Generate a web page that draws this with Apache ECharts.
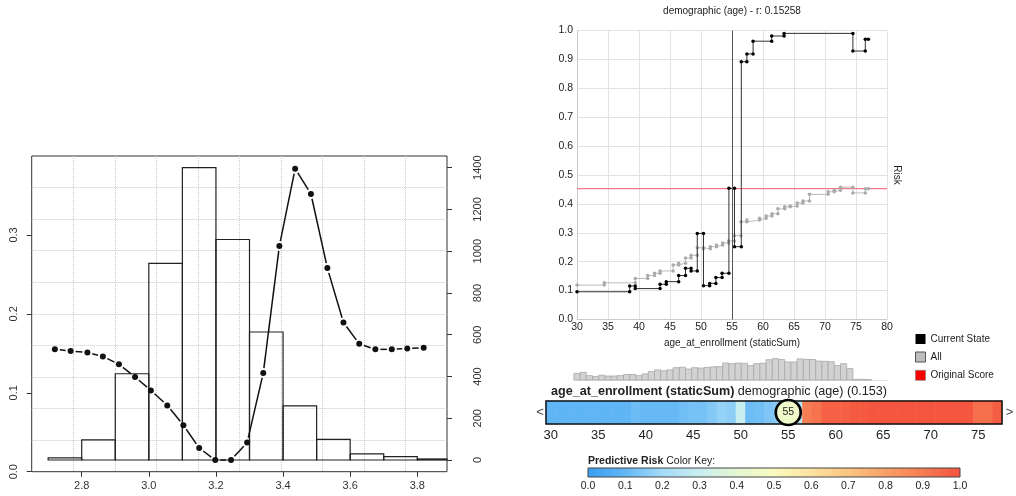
<!DOCTYPE html>
<html><head><meta charset="utf-8">
<script src="https://cdn.jsdelivr.net/npm/echarts@6/dist/echarts.min.js"></script>
<style>html,body{margin:0;padding:0;background:#fff}#c{width:1016px;height:496px}</style>
</head><body><div id="c"></div>
<script>
// ---------- left chart (R style) ----------
const histBinStart = [2.7, 2.8, 2.9, 3.0, 3.1, 3.2, 3.3, 3.4, 3.5, 3.6, 3.7, 3.8];
const histCounts   = [10, 96, 413, 942, 1400, 1056, 613, 259, 99, 29, 16, 5];
const binWidth = 0.1;
const dotX = [2.720, 2.767, 2.817, 2.863, 2.911, 2.959, 3.006, 3.055, 3.103, 3.150, 3.198, 3.245,
              3.293, 3.341, 3.389, 3.436, 3.483, 3.532, 3.580, 3.627, 3.675, 3.724, 3.770, 3.819];
const dotY = [0.155, 0.153, 0.151, 0.146, 0.136, 0.120, 0.103, 0.084, 0.059, 0.030, 0.0148, 0.0148,
              0.037, 0.125, 0.286, 0.384, 0.352, 0.258, 0.189, 0.162, 0.155, 0.155, 0.156, 0.157];
const leftXTicks  = [2.8, 3.0, 3.2, 3.4, 3.6, 3.8];
const leftYTicks  = [0, 0.1, 0.2, 0.3];
const rightYTicks = [0, 200, 400, 600, 800, 1000, 1200, 1400];

// ---------- right chart ----------
const chartTitle = 'demographic (age) - r: 0.15258';
const featureName = 'age_at_enrollment (staticSum)';
const blackAge  = [30, 38.5, 39.4, 43.4, 44.4, 46.4, 47.5, 48.4, 49.4, 50.4, 51.4, 52.4, 53.4, 54.5, 55.4, 56.5, 57.4, 58.4, 61.4, 63.4, 74.5, 76.5];
const blackRisk = [0.096, 0.116, 0.107, 0.122, 0.131, 0.152, 0.177, 0.168, 0.298, 0.117, 0.125, 0.145, 0.160, 0.454, 0.252, 0.892, 0.919, 0.963, 0.981, 0.990, 0.929, 0.970];
const grayAge   = [30, 34.4, 39.4, 41.4, 42.5, 43.4, 45.5, 46.4, 47.5, 48.4, 49.4, 50.4, 51.5, 52.5, 53.5, 54.45, 55.4, 56.45, 57.4, 59.45,
                   60.5, 61.45, 62.4, 63.5, 64.4, 65.5, 66.45, 67.5, 70.5, 71.5, 72.5, 74.5, 76.5];
const grayRisk  = [0.119, 0.127, 0.142, 0.152, 0.160, 0.168, 0.189, 0.195, 0.213, 0.222, 0.248, 0.245, 0.252, 0.258, 0.265, 0.272, 0.290, 0.338, 0.344, 0.350,
                   0.358, 0.366, 0.383, 0.390, 0.393, 0.403, 0.410, 0.433, 0.442, 0.447, 0.458, 0.438, 0.452];
const lastAge = 77.0;
const currentAge = 55;
const originalScore = 0.453;

// mini histogram of ages
const histAges = [30,31,32,33,34,35,36,37,38,39,40,41,42,43,44,45,46,47,48,49,50,51,52,53,
                  54,55,56,57,58,59,60,61,62,63,64,65,66,67,68,69,70,71,72,73,74,75,76,77];
const histAgeCounts = [30,35,20,16,22,18,18,20,25,25,20,28,38,46,42,46,56,58,50,56,54,57,60,61,
                       77,74,77,76,65,74,76,92,97,93,82,82,96,94,93,86,85,83,66,74,52,3,3,2];

// color bar (risk per age)
const barAges = histAges;
const barRisk = [0.096,0.096,0.096,0.096,0.096,0.096,0.096,0.096,0.096,0.116,0.107,0.107,0.107,0.107,0.122,0.131,0.131,0.152,0.177,0.168,
                 0.298,0.117,0.125,0.145,0.160,0.454,0.252,0.892,0.919,0.963,0.963,0.963,0.981,0.981,0.990,0.990,0.990,0.990,0.990,0.990,
                 0.990,0.990,0.990,0.990,0.990,0.929,0.929,0.970];
const barTicks = [30, 35, 40, 45, 50, 55, 60, 65, 70, 75];
const currentRisk = 0.454;
const barTitle = '(0.153)';

// color key
const keyColors = ['#3a9ff5','#62b6f5','#a3daf7','#c9eef0','#e4f6d4','#fafcbf','#fde2a0','#fcc47f','#f9a067','#f77b52','#f5523d'];

const FONT = '"Liberation Sans", Arial, Helvetica, sans-serif';

function stepPoints(ages, risks, endAge) {
  const pts = [];
  for (let i = 0; i < ages.length; i++) {
    const next = i + 1 < ages.length ? ages[i + 1] : endAge;
    pts.push([ages[i], risks[i]]);
    pts.push([next, risks[i]]);
  }
  return pts;
}
const segData = [];
for (let i = 0; i + 1 < dotX.length; i++) segData.push([dotX[i], dotY[i], dotX[i + 1], dotY[i + 1]]);

const chart = echarts.init(document.getElementById('c'), null, {renderer: 'canvas'});
const hidden = {axisLine:{show:false}, axisTick:{show:false}, axisLabel:{show:false}, splitLine:{show:false}};
const dotted = {show:true, showMinLine:false, showMaxLine:false, lineStyle:{color:'#c8c8c8', type:'dotted', width:1}};

chart.setOption({
  animation: false,
  textStyle: {fontFamily: FONT},
  grid: [
    {left: 31.7, top: 156, width: 415.3, height: 315.7, show: true, borderColor: '#333', borderWidth: 1},
    {left: 577, top: 30.5, width: 310, height: 289},
    {left: 577, top: 358, width: 310, height: 22},
    {left: 546, top: 401, width: 456, height: 23},
    {left: 588, top: 468, width: 372, height: 9}
  ],
  xAxis: [
    {gridIndex: 0, type: 'value', min: 2.651, max: 3.8885, position: 'bottom',
     axisLine: {show: false}, splitLine: {show: false},
     axisTick: {show: true, customValues: leftXTicks, length: 5, lineStyle: {color: '#333'}},
     axisLabel: {customValues: leftXTicks, formatter: v => v.toFixed(1), fontSize: 11, color: '#333', margin: 9}},
    Object.assign({gridIndex: 0, type: 'value', min: 0, max: 10, interval: 1, position: 'top'}, hidden, {splitLine: dotted}),
    {gridIndex: 1, type: 'value', min: 30, max: 80, interval: 5,
     axisLine: {show: true, lineStyle: {color: '#ccc'}}, axisTick: {show: false},
     axisLabel: {fontSize: 10.5, color: '#222', margin: 2},
     splitLine: {show: true, lineStyle: {color: '#e2e2e2'}},
     name: featureName, nameLocation: 'middle', nameGap: 19, nameTextStyle: {fontSize: 10, color: '#222'}},
    Object.assign({gridIndex: 2, type: 'value', min: 30, max: 80, position: 'top'}, hidden, {axisLine: {show: true, lineStyle: {color: '#e0e0e0'}}}),
    {gridIndex: 3, type: 'value', min: 29.5, max: 77.5,
     axisLine: {show: false}, axisTick: {show: false}, splitLine: {show: false},
     axisLabel: {customValues: barTicks, fontSize: 13, color: '#222', margin: 5}},
    {gridIndex: 4, type: 'value', min: 0, max: 1, interval: 0.1,
     axisLine: {show: false}, axisTick: {show: false}, splitLine: {show: false},
     axisLabel: {formatter: v => v.toFixed(1), fontSize: 10.5, color: '#222', margin: 4}}
  ],
  yAxis: [
    {gridIndex: 0, type: 'value', min: 0, max: 0.4, position: 'left',
     axisLine: {show: false}, splitLine: {show: false},
     axisTick: {show: true, customValues: leftYTicks, length: 5, lineStyle: {color: '#333'}},
     axisLabel: {customValues: leftYTicks, formatter: v => v.toFixed(1), rotate: 90, fontSize: 11, color: '#333', margin: 12}},
    {gridIndex: 0, type: 'value', min: -56, max: 1456, position: 'right',
     axisLine: {show: false}, splitLine: {show: false},
     axisTick: {show: true, customValues: rightYTicks, length: 5, lineStyle: {color: '#333'}},
     axisLabel: {customValues: rightYTicks, formatter: v => String(v), rotate: 90, fontSize: 11, color: '#333', margin: 25}},
    Object.assign({gridIndex: 0, type: 'value', min: 0, max: 10, interval: 1}, hidden, {splitLine: dotted}),
    {gridIndex: 1, type: 'value', min: 0, max: 1, interval: 0.1,
     axisLine: {show: true, lineStyle: {color: '#ccc'}}, axisTick: {show: false},
     axisLabel: {formatter: v => v.toFixed(1), fontSize: 10.5, color: '#222', margin: 4},
     splitLine: {show: true, lineStyle: {color: '#e2e2e2'}}},
    Object.assign({gridIndex: 1, type: 'value', min: 0, max: 1, position: 'right',
     name: 'Risk', nameLocation: 'middle', nameRotate: -90, nameGap: 5, nameTextStyle: {fontSize: 10, color: '#222'}}, hidden),
    Object.assign({gridIndex: 2, type: 'value', min: 0, max: 100}, hidden),
    Object.assign({gridIndex: 3, type: 'value', min: 0, max: 1}, hidden),
    Object.assign({gridIndex: 4, type: 'value', min: 0, max: 1}, hidden)
  ],
  visualMap: [{type: 'continuous', show: false, min: 0, max: 1, dimension: 2, seriesIndex: [7, 9], inRange: {color: keyColors}}],
  legend: {
    left: 910, top: 329, orient: 'vertical', icon: 'rect', itemWidth: 10, itemHeight: 10, itemGap: 7.5,
    textStyle: {fontSize: 10, color: '#222'},
    data: [
      {name: 'Current State', itemStyle: {color: '#000'}},
      {name: 'All', itemStyle: {color: '#bdbdbd', borderColor: '#555', borderWidth: 1}},
      {name: 'Original Score', itemStyle: {color: '#ff0000', borderColor: '#777', borderWidth: 0.6}}
    ]
  },
  graphic: [
    {type: 'text', x: 732, y: 11, style: {text: chartTitle, fontSize: 10, fontFamily: FONT, fill: '#222', align: 'center', verticalAlign: 'middle'}},
    {type: 'text', x: 551, y: 392, style: {
      text: '{b|' + featureName + '}{n| demographic (age) ' + barTitle + '}',
      rich: {b: {fontWeight: 'bold', fontSize: 12.6, fontFamily: FONT, fill: '#222'},
             n: {fontSize: 12.6, fontFamily: FONT, fill: '#222'}},
      verticalAlign: 'middle'}},
    {type: 'text', x: 540, y: 412, style: {text: '<', fontSize: 13, fontFamily: FONT, fill: '#444', align: 'center', verticalAlign: 'middle'}},
    {type: 'text', x: 1009.5, y: 412.5, style: {text: '>', fontSize: 13, fontFamily: FONT, fill: '#444', align: 'center', verticalAlign: 'middle'}},
    {type: 'text', x: 588, y: 461, style: {
      text: '{b|Predictive Risk}{n| Color Key:}',
      rich: {b: {fontWeight: 'bold', fontSize: 10.5, fontFamily: FONT, fill: '#222'},
             n: {fontSize: 10.5, fontFamily: FONT, fill: '#222'}},
      verticalAlign: 'middle'}}
  ],
  series: [
    // 0 histogram (counts, right axis)
    {type: 'custom', xAxisIndex: 0, yAxisIndex: 1, z: 3,
     data: histBinStart.map((b, i) => [b, histCounts[i]]),
     renderItem: function (params, api) {
       const x0 = api.value(0), c = api.value(1);
       const p0 = api.coord([x0, 0]), p1 = api.coord([x0 + binWidth, c]);
       const cs = params.coordSys;
       const r = echarts.graphic.clipRectByRect(
         {x: p0[0], y: p1[1], width: p1[0] - p0[0], height: p0[1] - p1[1]},
         {x: cs.x, y: cs.y, width: cs.width, height: cs.height});
       if (!r) return;
       return {type: 'rect', shape: r, style: {fill: 'none', stroke: '#222', lineWidth: 1.2}};
     }},
    // 1 gapped line (type="b")
    {type: 'custom', xAxisIndex: 0, yAxisIndex: 0, z: 4,
     data: segData,
     renderItem: function (params, api) {
       const a = api.coord([api.value(0), api.value(1)]);
       const b = api.coord([api.value(2), api.value(3)]);
       const dx = b[0] - a[0], dy = b[1] - a[1];
       const len = Math.sqrt(dx * dx + dy * dy), g = 5;
       if (len <= 2 * g) return;
       const ux = dx / len, uy = dy / len;
       return {type: 'line', shape: {x1: a[0] + ux * g, y1: a[1] + uy * g, x2: b[0] - ux * g, y2: b[1] - uy * g},
               style: {stroke: '#111', lineWidth: 1.5}};
     }},
    // 2 dots
    {type: 'scatter', xAxisIndex: 0, yAxisIndex: 0, z: 5, symbolSize: 6,
     itemStyle: {color: '#111', opacity: 1}, data: dotX.map((x, i) => [x, dotY[i]])},
    // 3 All
    {name: 'All', type: 'line', xAxisIndex: 2, yAxisIndex: 3, z: 3, data: stepPoints(grayAge, grayRisk, lastAge),
     symbol: 'circle', symbolSize: 3.5, showSymbol: true, itemStyle: {color: '#aaa'},
     lineStyle: {color: '#bbb', width: 1}},
    // 4 Current State
    {name: 'Current State', type: 'line', xAxisIndex: 2, yAxisIndex: 3, z: 4, data: stepPoints(blackAge, blackRisk, lastAge),
     symbol: 'circle', symbolSize: 3.5, showSymbol: true, itemStyle: {color: '#000'},
     lineStyle: {color: '#333', width: 1},
     markLine: {silent: true, symbol: ['none', 'none'], label: {show: false},
       lineStyle: {color: '#555', width: 1, type: 'solid'},
       data: [{xAxis: currentAge}]}},
    // 5 Original Score line
    {name: 'Original Score', type: 'custom', xAxisIndex: 2, yAxisIndex: 3, z: 2, data: [[originalScore]],
     itemStyle: {color: '#ff0000'},
     renderItem: function (params, api) {
       const cs = params.coordSys;
       const y = api.coord([30, api.value(0)])[1];
       return {type: 'line', shape: {x1: cs.x, y1: y, x2: cs.x + cs.width, y2: y},
               style: {stroke: '#f0798b', lineWidth: 1.2}};
     }},
    // 6 mini histogram
    {type: 'custom', xAxisIndex: 3, yAxisIndex: 5,
     data: histAges.map((a, i) => [a, histAgeCounts[i]]),
     renderItem: function (params, api) {
       const a = api.value(0), h = api.value(1);
       const p0 = api.coord([a - 0.5, 0]), p1 = api.coord([a + 0.5, h]);
       return {type: 'rect', shape: {x: p0[0], y: p1[1], width: p1[0] - p0[0], height: p0[1] - p1[1]},
               style: {fill: '#d2d2d2', stroke: '#a8a8a8', lineWidth: 0.8}};
     }},
    // 7 color bar cells
    {type: 'custom', xAxisIndex: 4, yAxisIndex: 6,
     data: barAges.map((a, i) => [a, 0.5, barRisk[i]]),
     renderItem: function (params, api) {
       const a = api.value(0);
       const p0 = api.coord([a - 0.5, 0]), p1 = api.coord([a + 0.5, 1]);
       const col = api.visual('color');
       return {type: 'rect', shape: {x: p0[0], y: p1[1], width: p1[0] - p0[0], height: p0[1] - p1[1]},
               style: {fill: col, stroke: col, lineWidth: 0.6}};
     }},
    // 8 color bar border
    {type: 'custom', xAxisIndex: 4, yAxisIndex: 6, z: 4, data: [[0]],
     renderItem: function (params) {
       const cs = params.coordSys;
       return {type: 'rect', shape: {x: cs.x, y: cs.y, width: cs.width, height: cs.height},
               style: {fill: 'none', stroke: '#111', lineWidth: 1.5}};
     }},
    // 9 current value circle
    {type: 'scatter', xAxisIndex: 4, yAxisIndex: 6, z: 6, symbol: 'circle', symbolSize: 25,
     data: [[currentAge, 0.5, currentRisk]],
     itemStyle: {borderColor: '#000', borderWidth: 2.7, opacity: 1},
     label: {show: true, position: 'inside', formatter: p => String(p.value[0]), fontSize: 10.5, color: '#222'}},
    // 10 color key
    {type: 'custom', xAxisIndex: 5, yAxisIndex: 7, data: [[0, 1]],
     renderItem: function (params, api) {
       const p0 = api.coord([api.value(0), 0]), p1 = api.coord([api.value(1), 1]);
       const stops = keyColors.map((c, i) => ({offset: i / (keyColors.length - 1), color: c}));
       return {type: 'rect', shape: {x: p0[0], y: p1[1], width: p1[0] - p0[0], height: p0[1] - p1[1]},
               style: {fill: new echarts.graphic.LinearGradient(0, 0, 1, 0, stops), stroke: '#444', lineWidth: 1}};
     }}
  ]
});
</script></body></html>
